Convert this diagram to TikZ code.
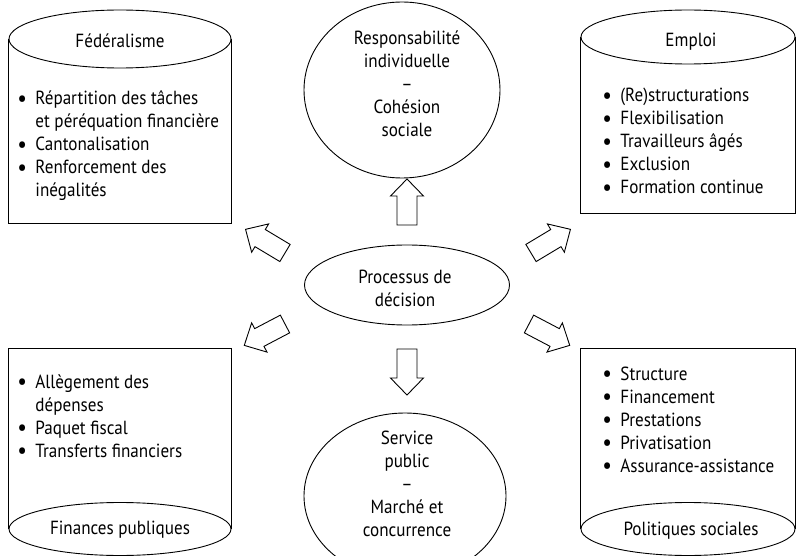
\documentclass[tikz,border=0pt]{standalone}
\usepackage{fontspec}
\setmainfont{PT Sans}[FakeStretch=0.9]
\usetikzlibrary{shapes.geometric,calc}
\newcommand\itm{\makebox[18pt][l]{\raisebox{-1.4pt}{\scalebox{1.25}{\textbullet}}}}
\newcommand\ind{\hspace*{18pt}}
\newcommand\blockarrow[2]{%
  \path let \p1=($(#2)-(#1)$), \n1={atan2(\y1,\x1)} in \pgfextra{\xdef\barang{\n1}};
  \begin{scope}[shift={(#1)}, rotate=\barang]
    \draw[blockar] (0,-10) -- (29,-10) -- (29,-16.5) -- (46,0) -- (29,16.5) -- (29,10) -- (0,10) -- cycle;
  \end{scope}}
\begin{document}
\begin{tikzpicture}[x=1pt,y=-1pt, line width=0.9pt,
  every node/.style={font=\fontsize{19}{23}\selectfont, inner sep=0pt},
  ell/.style={draw, ellipse, align=center},
  lbl/.style={align=center},
  lst/.style={anchor=base west, align=left},
  blockar/.style={draw, line width=0.9pt, line join=miter}]
\useasboundingbox (0,0) rectangle (798,556);

% cylinders
\coordinate (ytl) at (0,223);
\coordinate (ytr) at (0,213);
\coordinate (yb) at (0,348);

\node[ell, minimum width=222pt, minimum height=58pt] (fed) at (120,39) {};
\node[lbl] (fedt) at (120,41) {Fédéralisme};
\draw (fed.west) -- (fed.west |- ytl) -- (fed.east |- ytl) -- (fed.east);

\node[ell, minimum width=214pt, minimum height=54pt] (emp) at (688,37) {};
\node[lbl] (empt) at (691,42) {Emploi};
\draw (emp.west) -- (emp.west |- ytr) -- (emp.east |- ytr) -- (emp.east);

\node[ell, minimum width=222pt, minimum height=53pt] (fin) at (120,529) {};
\node[lbl] (fint) at (120,530) {Finances publiques};
\draw (fin.west) -- (fin.west |- yb) -- (fin.east |- yb) -- (fin.east);

\node[ell, minimum width=214pt, minimum height=53pt] (pol) at (688,529) {};
\node[lbl] (polt) at (691,531) {Politiques sociales};
\draw (pol.west) -- (pol.west |- yb) -- (pol.east |- yb) -- (pol.east);

% lists
\node[lst] (lfed) at (17,105) {\begin{tabular}[t]{@{}l@{}}
\itm Répartition des tâches\\
\ind et péréquation financière\\
\itm Cantonalisation\\
\itm Renforcement des\\
\ind inégalités\end{tabular}};

\node[lst] (lemp) at (602,102) {\begin{tabular}[t]{@{}l@{}}
\itm (Re)structurations\\
\itm Flexibilisation\\
\itm Travailleurs âgés\\
\itm Exclusion\\
\itm Formation continue\end{tabular}};

\node[lst] (lfin) at (17,388) {\begin{tabular}[t]{@{}l@{}}
\itm Allègement des\\
\ind dépenses\\
\itm Paquet fiscal\\
\itm Transferts financiers\end{tabular}};

\node[lst] (lpol) at (602,380) {\begin{tabular}[t]{@{}l@{}}
\itm Structure\\
\itm Financement\\
\itm Prestations\\
\itm Privatisation\\
\itm Assurance-assistance\end{tabular}};

% central ellipses
\node[ell, minimum width=196pt, minimum height=176pt] (resp) at (402,90) {};
\node[lbl] (respt) at (407,84) {Responsabilité\\individuelle\\–\\Cohésion\\sociale};
\node[ell, minimum width=205pt, minimum height=80pt] (proc) at (407,285) {};
\node[lbl] (proct) at (405,288) {Processus de\\décision};
\node[ell, minimum width=202pt, minimum height=166pt] (serv) at (405,496) {};
\node[lbl] (servt) at (407,484) {Service\\public\\–\\Marché et\\concurrence};

% block arrows
\coordinate (aU0) at (407,225); \coordinate (aU1) at (407,179);
\coordinate (aD0) at (407,349); \coordinate (aD1) at (407,395);
\coordinate (aUL0) at (285,253); \coordinate (aUL1) at (245,229);
\coordinate (aUR0) at (531,253); \coordinate (aUR1) at (571,229);
\coordinate (aLL0) at (285,324); \coordinate (aLL1) at (245,345);
\coordinate (aLR0) at (529,324); \coordinate (aLR1) at (569,345);
\blockarrow{aU0}{aU1}
\blockarrow{aD0}{aD1}
\blockarrow{aUL0}{aUL1}
\blockarrow{aUR0}{aUR1}
\blockarrow{aLL0}{aLL1}
\blockarrow{aLR0}{aLR1}
\end{tikzpicture}
\end{document}
